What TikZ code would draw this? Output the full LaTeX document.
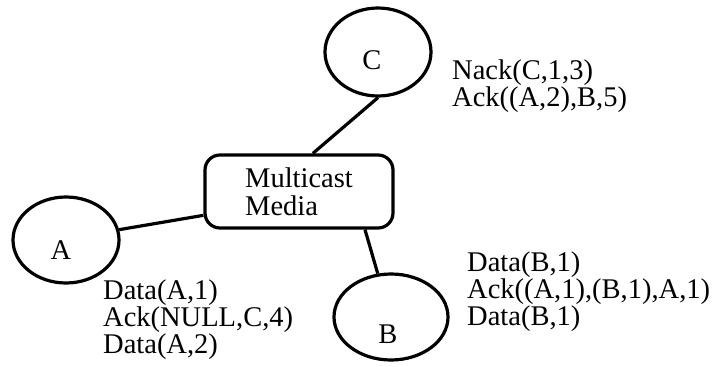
\documentclass[tikz,border=0pt]{standalone}
\usepackage{fontspec}
\setmainfont{Liberation Serif}
\usetikzlibrary{shapes.geometric}
\tikzset{
  every node/.style={font=\fontsize{28.5}{24.5}\selectfont},
  station/.style={ellipse, draw, line width=3.2pt, inner sep=0pt},
  media/.style={rectangle, draw, line width=3.2pt, rounded corners=15pt,
    minimum width=188, minimum height=73, align=left, inner sep=0pt,
    font=\fontsize{28.5}{28}\selectfont},
  lbl/.style={inner sep=0pt},
  msgs/.style={align=left, anchor=base west, inner sep=0pt},
  link/.style={line width=3.2pt},
}
\begin{document}
\begin{tikzpicture}[x=1pt,y=-1pt]
\useasboundingbox (0,0) rectangle (718,367);
\node[station, minimum width=106, minimum height=88] (C) at (378,52) {};
\node[station, minimum width=106, minimum height=86] (A) at (66,240) {};
\node[station, minimum width=114, minimum height=86] (B) at (391,317) {};
\node[lbl] (Ct) at (372,60) {C};
\node[lbl] (At) at (61,250) {A};
\node[lbl] (Bt) at (388,334) {B};
\node[media] (M) at (299,191.5) {Multicast\\Media};
\draw[link] (C.south) -- (M.70);
\draw[link] (A.11) -- (M.194);
\draw[link] (B.107) -- (M.-30);
\node[msgs] (cm) at (452,106) {Nack(C,1,3)\\Ack((A,2),B,5)};
\node[msgs] (am) at (103,353) {Data(A,1)\\Ack(NULL,C,4)\\Data(A,2)};
\node[msgs] (bm) at (467,325) {Data(B,1)\\Ack((A,1),(B,1),A,1)\\Data(B,1)};
\end{tikzpicture}
\end{document}
